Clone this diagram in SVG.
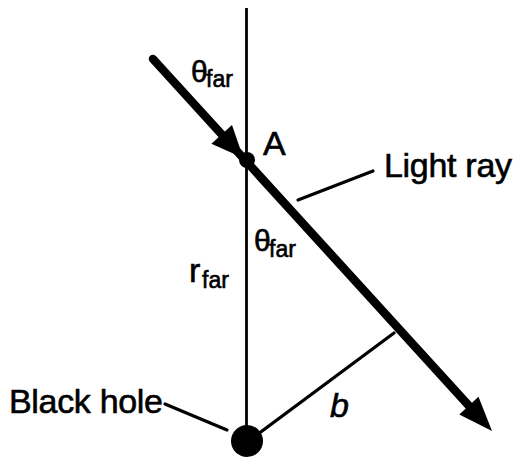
<svg xmlns="http://www.w3.org/2000/svg" width="514" height="457" viewBox="0 0 514 457">
<style>
text{font-family:"Liberation Sans",Arial,Helvetica,sans-serif;fill:#000;stroke:#000;stroke-width:0.6}
.lbl{font-size:34px}
.th{font-size:30px}
.sub{font-size:23px}
.thin{stroke:#000;fill:none;stroke-width:3.2;stroke-linecap:round}
</style>
<rect width="514" height="457" fill="#fff"/>
<g id="connectors">
  <line id="axis" x1="246.5" y1="8" x2="246.5" y2="432" stroke="#000" stroke-width="2.8"/>
  <line id="ray" x1="153" y1="59" x2="476.3" y2="413.8" stroke="#000" stroke-width="8.5" stroke-linecap="round"/>
  <polygon id="ray-mid-arrow" points="243.3,158 211.4,143.8 232,125" fill="#000"/>
  <polygon id="ray-end-arrow" points="492,431 459.3,414.4 478.5,396.8" fill="#000"/>
  <line id="impact-b" x1="250" y1="440" x2="394" y2="333" class="thin"/>
  <line id="leader-ray" x1="298" y1="200" x2="373" y2="171" class="thin"/>
  <line id="leader-bh" x1="165" y1="404" x2="227" y2="430" class="thin"/>
</g>
<g id="pointA">
  <circle cx="247" cy="160" r="8" fill="#000"/>
  <text class="lbl" x="263" y="155">A</text>
</g>
<g id="blackhole">
  <circle cx="247" cy="441" r="16" fill="#000"/>
  <text class="lbl" x="9" y="413" textLength="154" lengthAdjust="spacing">Black hole</text>
</g>
<g id="lightray-label">
  <text class="lbl" x="384" y="177" textLength="128" lengthAdjust="spacing">Light ray</text>
</g>
<g id="theta-top">
  <text x="191" y="82"><tspan class="th">θ</tspan><tspan class="sub" x="206" y="87">far</tspan></text>
</g>
<g id="theta-mid">
  <text x="254" y="251"><tspan class="th">θ</tspan><tspan class="sub" x="269" y="257">far</tspan></text>
</g>
<g id="r-far">
  <text x="189" y="282"><tspan class="lbl" font-size="36px">r</tspan><tspan class="sub" x="202" y="288">far</tspan></text>
</g>
<g id="b-label">
  <text class="lbl" x="330" y="417" font-style="italic" font-size="36px">b</text>
</g>
</svg>
